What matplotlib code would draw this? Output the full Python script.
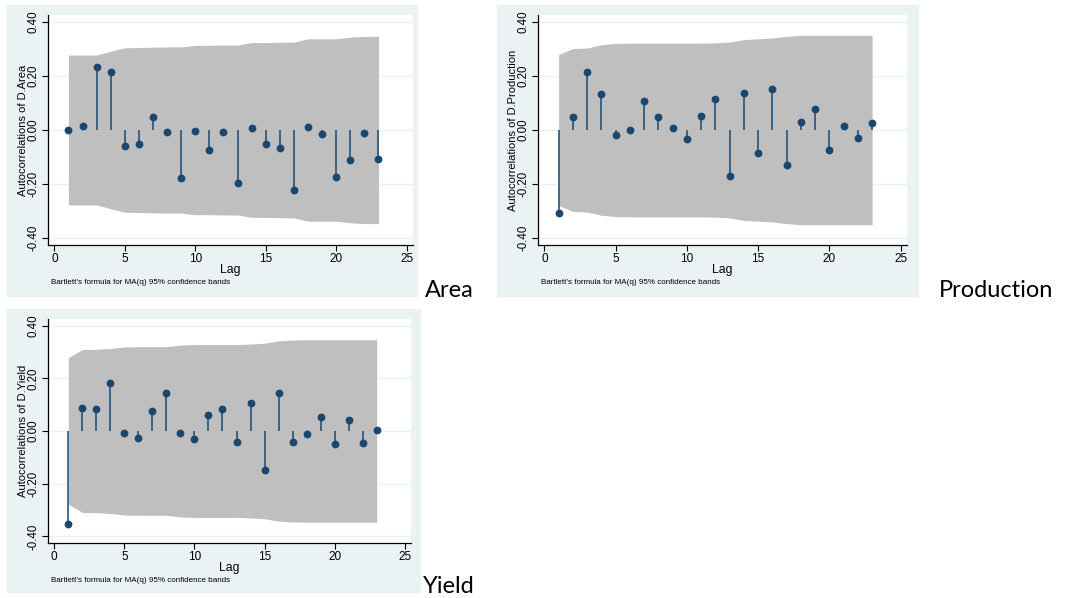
import numpy as np
import matplotlib
matplotlib.use("Agg")
import matplotlib.pyplot as plt
from matplotlib.patches import Rectangle

# ------------------------------------------------------------
# Data (lags 1..23)
# ------------------------------------------------------------
lags = list(range(1, 24))

acf_area = [0.000, 0.016, 0.231, 0.214, -0.060, -0.051, 0.049, -0.009,
            -0.177, -0.002, -0.075, -0.009, -0.196, 0.007, -0.053, -0.067,
            -0.223, 0.010, -0.015, -0.172, -0.111, -0.012, -0.109]
band_area = [0.277, 0.277, 0.277, 0.291, 0.304, 0.305, 0.306, 0.307,
             0.307, 0.313, 0.313, 0.314, 0.314, 0.323, 0.323, 0.324,
             0.325, 0.337, 0.337, 0.337, 0.343, 0.346, 0.346]

acf_prod = [-0.307, 0.049, 0.215, 0.133, -0.018, 0.000, 0.106, 0.049,
            0.007, -0.033, 0.053, 0.113, -0.171, 0.136, -0.086, 0.151,
            -0.128, 0.029, 0.076, -0.074, 0.015, -0.029, 0.025]
band_prod = [0.279, 0.301, 0.303, 0.315, 0.320, 0.321, 0.321, 0.321,
             0.321, 0.321, 0.321, 0.322, 0.325, 0.334, 0.337, 0.340,
             0.346, 0.350, 0.350, 0.350, 0.350, 0.350, 0.350]

acf_yield = [-0.352, 0.086, 0.084, 0.181, -0.006, -0.025, 0.075, 0.146,
             -0.009, -0.032, 0.060, 0.084, -0.043, 0.108, -0.149, 0.143,
             -0.040, -0.013, 0.055, -0.051, 0.041, -0.047, 0.003]
band_yield = [0.278, 0.309, 0.310, 0.313, 0.319, 0.320, 0.320, 0.320,
              0.326, 0.328, 0.328, 0.328, 0.328, 0.330, 0.333, 0.342,
              0.345, 0.346, 0.346, 0.346, 0.346, 0.346, 0.346]

yticks = [-0.40, -0.20, 0.00, 0.20, 0.40]
xticks = [0, 5, 10, 15, 20, 25]

W, H = 1068, 598
BG = "#eaf2f3"
NAVY = "#1a476f"
BAND = "#bfbfbf"

plt.rcParams['font.family'] = ['Liberation Sans', 'DejaVu Sans']

fig = plt.figure(figsize=(W / 100, H / 100), dpi=100)


def px_rect(l, t, r, b):
    # pixel box (from top-left) -> figure fraction [x, y, w, h]
    return [l / W, 1 - b / H, (r - l) / W, (b - t) / H]


def draw_panel(box, plot, acf, band, name, tag, tag_xy):
    bx = px_rect(*box)
    fig.patches.append(Rectangle((bx[0], bx[1]), bx[2], bx[3],
                                 transform=fig.transFigure, color=BG,
                                 zorder=-5))
    ax = fig.add_axes(px_rect(*plot))
    ax.set_facecolor("white")

    band = np.array(band)
    ax.fill_between(lags, -band, band, color=BAND, lw=0, zorder=1)
    ax.vlines(lags, 0, acf, color=NAVY, lw=1.1, zorder=3)
    ax.plot(lags, acf, "o", color=NAVY, ms=4.6, zorder=4)

    ax.set_xlim(-0.45, 25.45)
    ax.set_ylim(-0.425, 0.425)
    ax.set_yticks(yticks)
    ax.set_yticklabels([f"{v:.2f}" for v in yticks], rotation=90,
                       va="center", fontsize=8.3)
    ax.set_xticks(xticks)
    ax.set_xticklabels([str(v) for v in xticks], fontsize=8.5)
    ax.tick_params(direction="out", length=4, width=0.8, pad=2)
    ax.grid(axis="y", color=BG, lw=1.0, zorder=0)
    ax.set_axisbelow(True)
    for s in ["top", "right"]:
        ax.spines[s].set_visible(False)
    for s in ["left", "bottom"]:
        ax.spines[s].set_linewidth(0.9)

    ax.set_xlabel("Lag", fontsize=8.8, labelpad=-1)
    ax.set_ylabel(f"Autocorrelations of D.{name}", fontsize=8, labelpad=0)

    # note under the plot
    fig.text((plot[0] + 3) / W, 1 - (plot[3] + 37) / H,
             "Bartlett's formula for MA(q) 95% confidence bands",
             fontsize=5.8, va="center", ha="left")
    # panel label to the right
    fig.text(tag_xy[0] / W, 1 - tag_xy[1] / H, tag, fontsize=17,
             family="Lato", va="baseline", ha="left")


draw_panel((7, 5, 417, 296), (48, 15, 413, 245), acf_area, band_area,
           "Area", "Area", (425, 297))
draw_panel((497, 5, 918, 296), (538, 15, 907, 245), acf_prod, band_prod,
           "Production", "Production", (939, 297))
draw_panel((7, 309, 420, 592), (48, 319, 411, 543), acf_yield, band_yield,
           "Yield", "Yield", (423, 593))

fig.savefig("out.png", dpi=100)
